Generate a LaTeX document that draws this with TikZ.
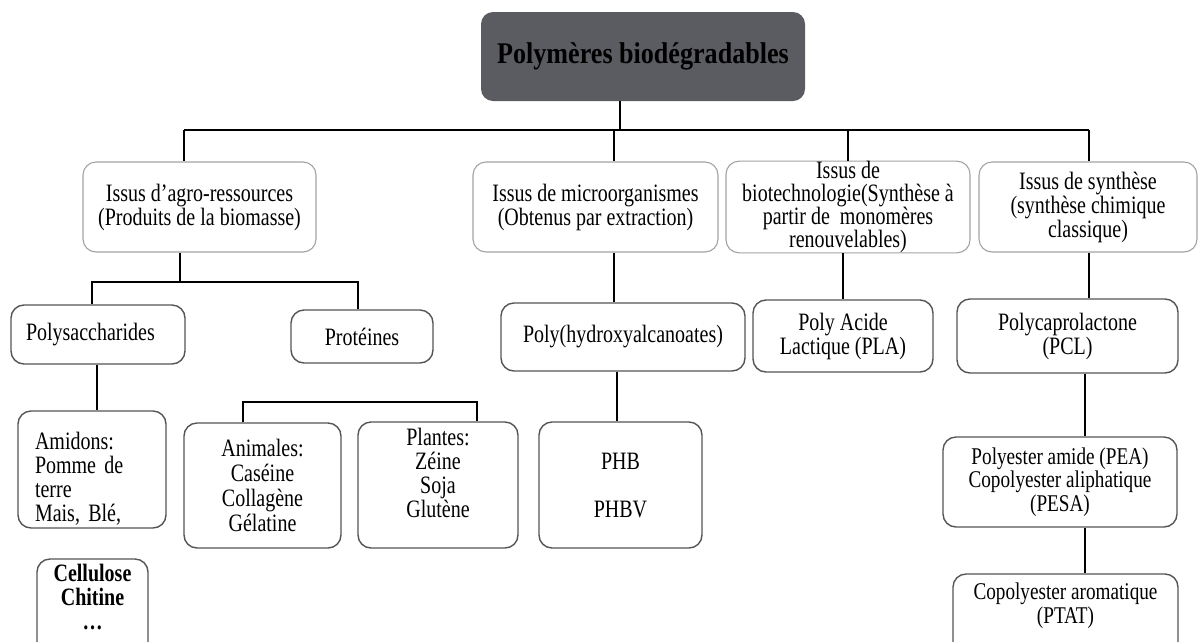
\documentclass[tikz,border=0pt]{standalone}
\usepackage{fontspec}
\setmainfont{Liberation Serif}[FakeStretch=0.8]
\newfontfamily\titlefont{Liberation Serif}[FakeStretch=0.87]
\definecolor{topfill}{HTML}{5B5C61}
\definecolor{lightborder}{HTML}{A3A3A3}
\definecolor{darkborder}{HTML}{555555}
\tikzset{
  base/.style={rectangle, rounded corners=13pt, inner sep=0pt, align=center,
    font=\fontsize{25}{24}\selectfont},
  catbox/.style={base, draw=lightborder, line width=1.1pt},
  itembox/.style={base, draw=darkborder, line width=1.4pt},
  conn/.style={draw=black, line width=1.8pt},
}
\begin{document}
\begin{tikzpicture}[x=1pt,y=-1pt]
\useasboundingbox (0,0) rectangle (1199,641);
\clip (0,0) rectangle (1199,641);
\fill[white] (0,0) rectangle (1199,641);

% title
\node[base, fill=topfill, rounded corners=12pt, minimum width=324, minimum height=89,
  font=\titlefont\bfseries\fontsize{30}{32}\selectfont] (top) at (643,56.5) {Polymères biodégradables};

% level 1
\node[catbox, minimum width=233, minimum height=90] (agro) at (199.5,207)
  {Issus d’agro-ressources\\(Produits de la biomasse)};
\node[catbox, minimum width=245, minimum height=90] (micro) at (595.5,207)
  {Issus de microorganismes\\(Obtenus par extraction)};
\node[catbox, minimum width=244, minimum height=90, font=\fontsize{25}{23}\selectfont] (biotech) at (848,207)
  {Issus de\\biotechnologie(Synthèse à\\partir de~ monomères\\renouvelables)};
\node[catbox, minimum width=218, minimum height=90] (synth) at (1088,207)
  {Issus de synthèse\\(synthèse chimique\\classique)};

% level 2
\node[itembox, minimum width=174, minimum height=59, align=left, inner xsep=15pt, text width=144pt] (poly) at (98,334.5)
  {Polysaccharides};
\node[itembox, minimum width=142, minimum height=53] (prot) at (362,336.5) {Protéines};
\node[itembox, minimum width=244, minimum height=68] (polyh) at (623,337) {Poly(hydroxyalcanoates)};
\node[itembox, minimum width=180, minimum height=72] (pla) at (843,336) {Poly Acide\\Lactique (PLA)};
\node[itembox, minimum width=221, minimum height=74] (pcl) at (1067.5,336) {Polycaprolactone\\(PCL)};

% level 3
\node[itembox, minimum width=148, minimum height=117, align=left, inner xsep=17pt, text width=114pt] (amid) at (92,469.5)
  {\mbox{}\\[11pt]Amidons:\\Pomme de\\terre\\Mais, Blé,};
\node[itembox, minimum width=111, minimum height=120, font=\bfseries\fontsize{25}{24}\selectfont] (cell) at (92.5,619)
  {Cellulose\\Chitine\\…\\[20pt]\mbox{}};
\node[itembox, minimum width=157, minimum height=125, font=\fontsize{25}{25}\selectfont] (anim) at (262.5,485.5)
  {Animales:\\Caséine\\Collagène\\Gélatine};
\node[itembox, minimum width=160, minimum height=126] (plant) at (438,485)
  {Plantes:\\Zéine\\Soja\\Glutène\\[0pt]\mbox{}};
\node[itembox, minimum width=163, minimum height=126] (phb) at (620.5,485) {PHB\\[24pt]PHBV};
\node[itembox, minimum width=234, minimum height=90, font=\fontsize{24}{23.5}\selectfont] (pea) at (1060,482)
  {Polyester amide (PEA)\\Copolyester aliphatique\\(PESA)};
\node[itembox, minimum width=225, minimum height=90, font=\fontsize{24}{23.5}\selectfont] (ptat) at (1065.5,619)
  {Copolyester aromatique\\(PTAT)\\[8pt]\mbox{}};

% connector coordinates
\coordinate (jTop) at (620,130);
\coordinate (jA) at (184,130);
\coordinate (jM) at (614,130);
\coordinate (jB) at (848,130);
\coordinate (jS) at (1089,130);
\coordinate (kA) at (180,282);
\coordinate (kP) at (92,282);
\coordinate (kR) at (358,282);
\coordinate (vB) at (843,0);
\coordinate (vP) at (97,0);
\coordinate (kAn) at (243,402);
\coordinate (kPl) at (477,402);
\coordinate (vH) at (617,0);
\coordinate (vS) at (1085,0);

% connectors
\draw[conn] (top.south -| jTop) -- (jTop);
\draw[conn] (jA) -- (jS);
\draw[conn] (jA) -- (agro.north -| jA);
\draw[conn] (jM) -- (micro.north -| jM);
\draw[conn] (jB) -- (biotech.north -| jB);
\draw[conn] (jS) -- (synth.north -| jS);

\draw[conn] (agro.south -| kA) -- (kA);
\draw[conn] (poly.north -| kP) |- (kR) -- (prot.north -| kR);
\draw[conn] (micro.south -| jM) -- (polyh.north -| jM);
\draw[conn] (biotech.south -| vB) -- (pla.north -| vB);
\draw[conn] (synth.south -| jS) -- (pcl.north -| jS);

\draw[conn] (poly.south -| vP) -- (amid.north -| vP);
\draw[conn] (anim.north -| kAn) |- (kPl) -- (plant.north -| kPl);
\draw[conn] (polyh.south -| vH) -- (phb.north -| vH);
\draw[conn] (pcl.south -| vS) -- (pea.north -| vS);
\draw[conn] (pea.south -| vS) -- (ptat.north -| vS);
\end{tikzpicture}
\end{document}
